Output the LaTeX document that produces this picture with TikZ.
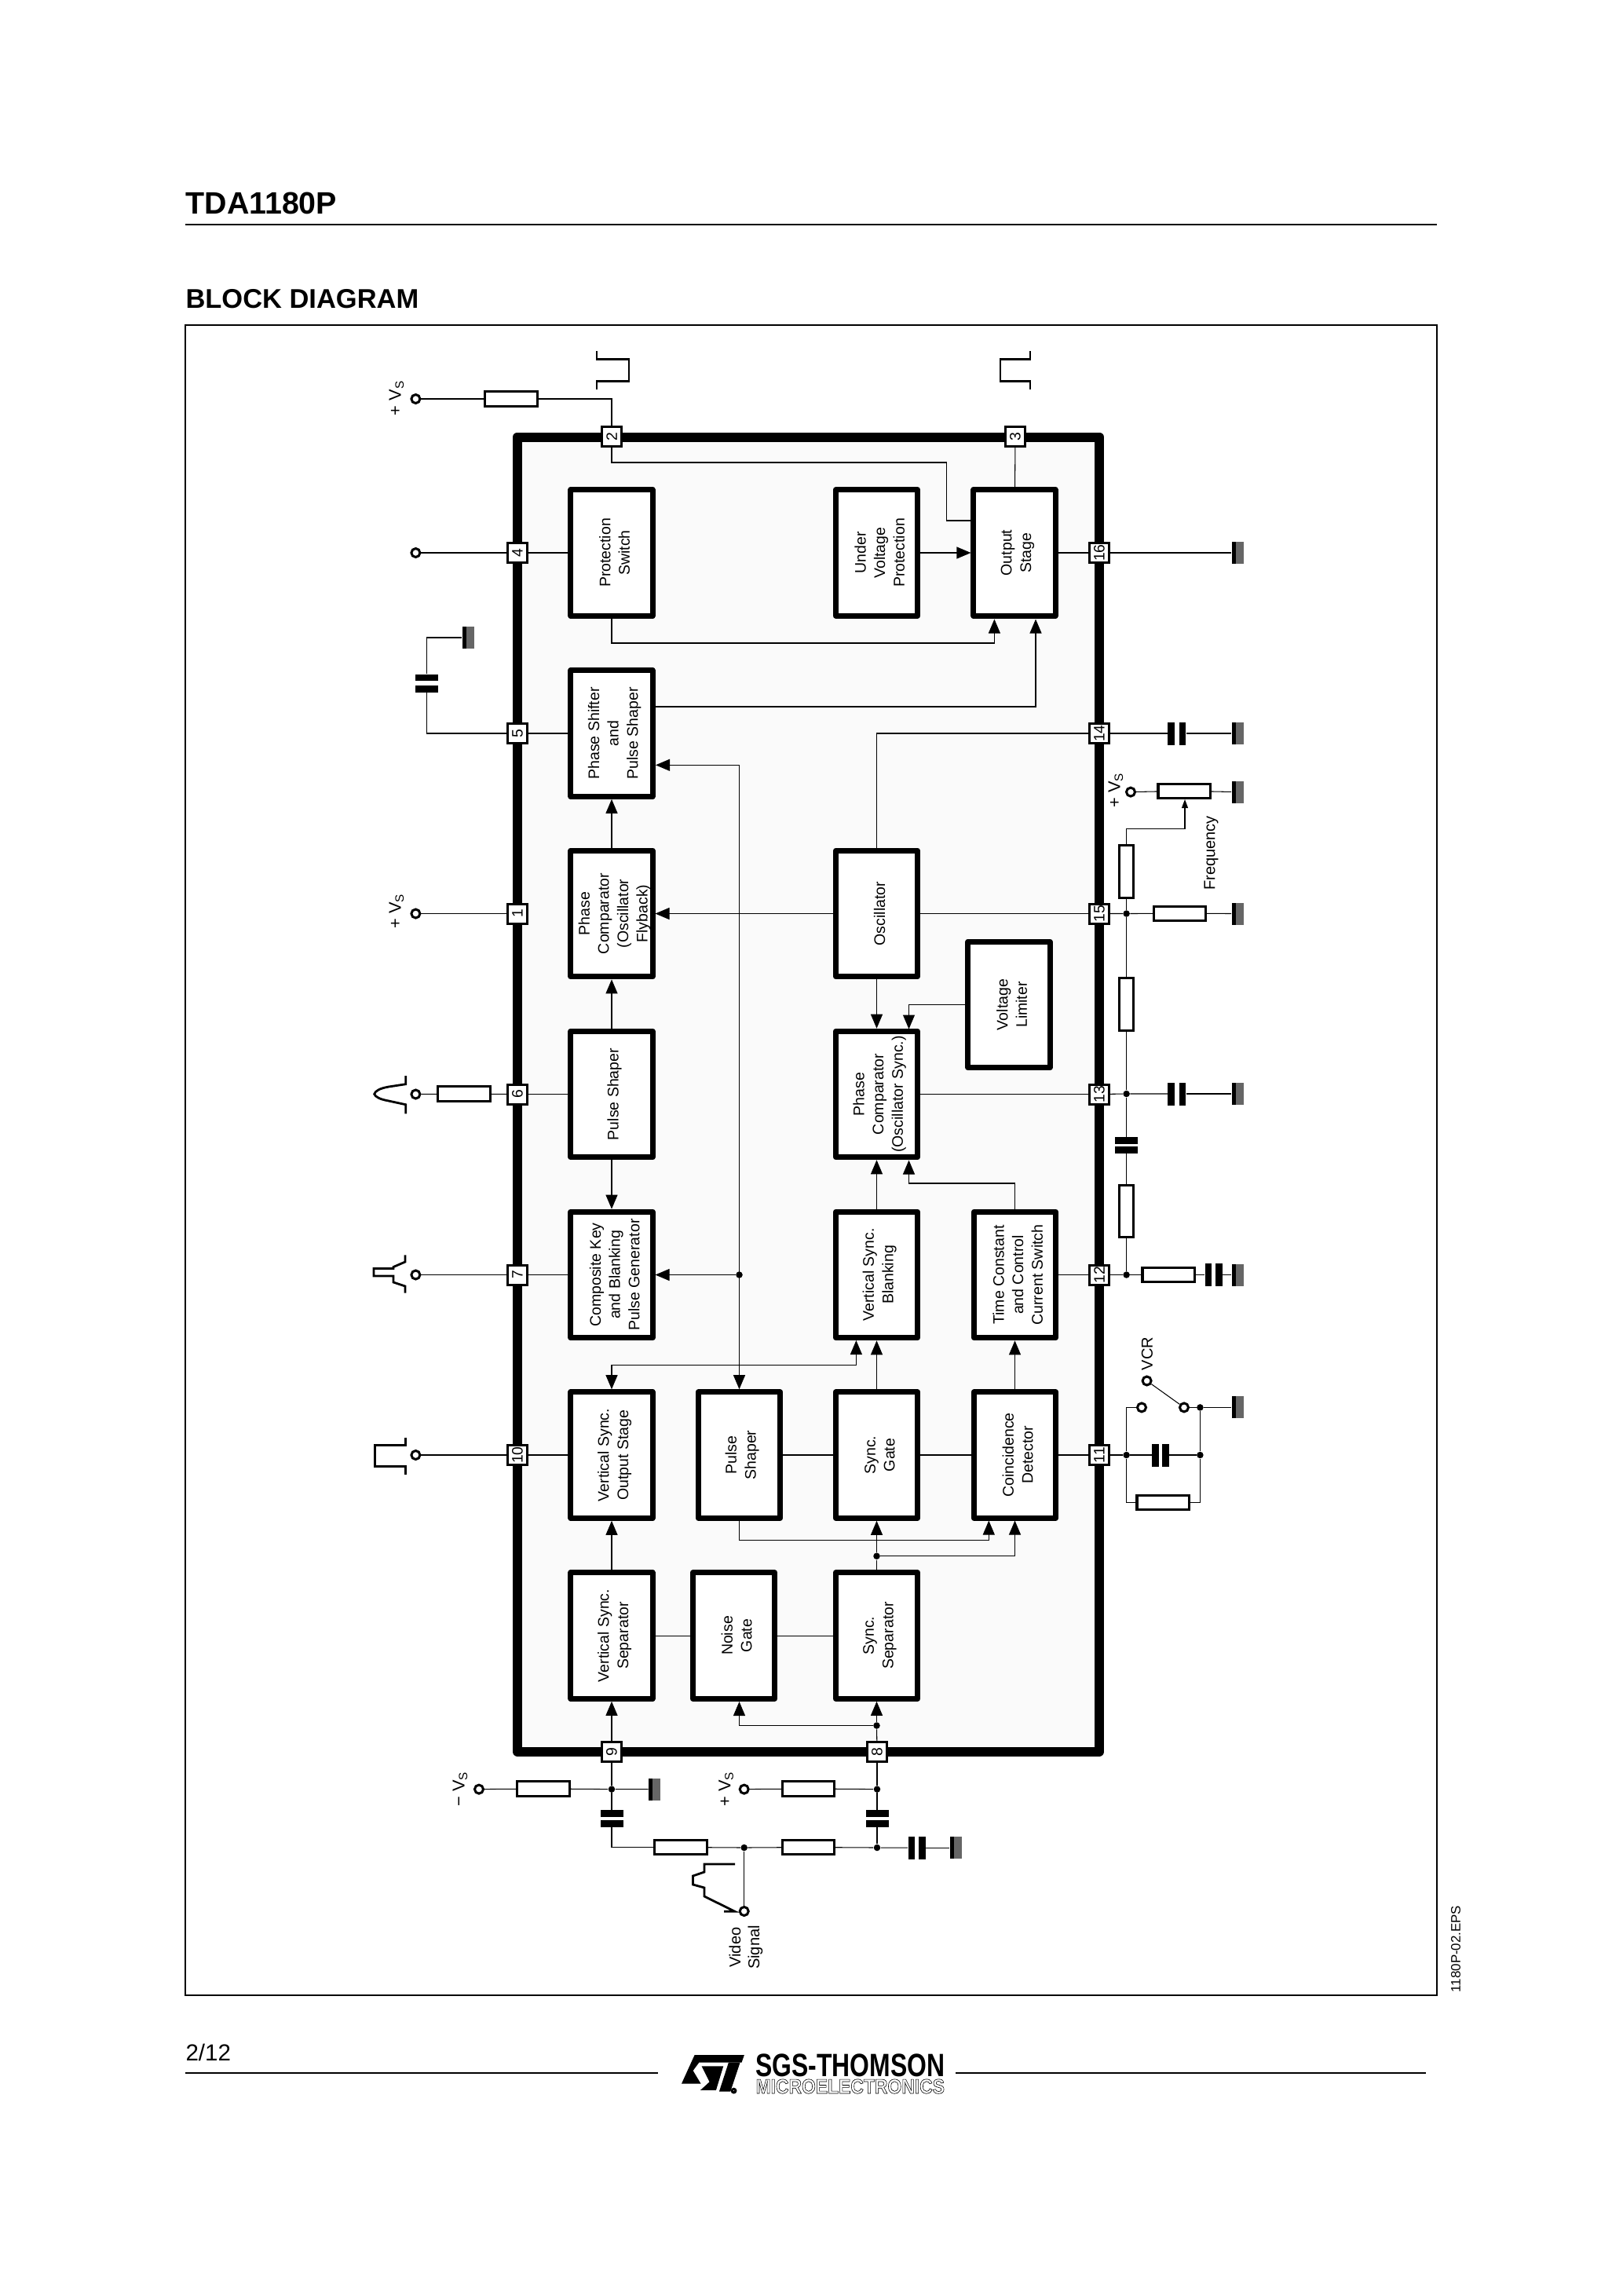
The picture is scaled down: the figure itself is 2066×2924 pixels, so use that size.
\documentclass[tikz,border=0pt]{standalone}
\usepackage{fontspec}
\usepackage{graphicx}
\setmainfont{Liberation Sans}
\usetikzlibrary{
  calc,
  arrows.meta
}
\definecolor{chipfill}{HTML}{FAFAFA}
\newcommand{\lift}{\rule{0pt}{6.1pt}}
\tikzset{
  block/.style={rotate=90,draw,line width=0.07cm,line join=round,fill=white,minimum width=1.605cm,minimum height=1.04cm,inner sep=0,align=center,font=\fontsize{5.55}{7}\selectfont},
  chippin/.style={rotate=90,draw,line width=0.03cm,fill=white,minimum size=0.25cm,inner sep=0,font=\fontsize{5.5}{6}\selectfont},
  res/.style={draw,line width=0.03cm,fill=white,minimum width=0.66cm,minimum height=0.185cm,inner sep=0},
  term/.style={circle,draw,line width=0.03cm,fill=white,minimum size=0.11cm,inner sep=0},
  conn/.style={circle,fill=black,minimum size=0.085cm,inner sep=0},
  plate/.style={fill=black,minimum width=0.085cm,minimum height=0.29cm,inner sep=0},
  gnd/.style={anchor=west,fill=black!60,minimum width=0.15cm,minimum height=0.28cm,inner sep=0,path picture={\fill[black] (path picture bounding box.north west) rectangle ($(path picture bounding box.south west)+(5,0)$);}},
  lab/.style={rotate=90,inner sep=0,align=center,font=\fontsize{5.7}{6.8}\selectfont},
  supply/.style={rotate=90,inner sep=0,font=\fontsize{6.2}{7}\selectfont},
  arr/.style={-{Triangle[length=0.18cm,width=0.15cm]}},
  dbl/.style={{Triangle[length=0.18cm,width=0.15cm]}-{Triangle[length=0.18cm,width=0.15cm]}},
  arrs/.style={-{Triangle[length=0.11cm,width=0.08cm]}},
  wave/.style={line width=0.028cm}
}

\begin{document}
\begin{tikzpicture}[x=0.01cm,y=-0.01cm,line width=0.3pt]
  \useasboundingbox[fill=white] (0,0) rectangle (2066,2924);

  % page furniture
  \node[anchor=base west,inner sep=0,font=\fontsize{11.2}{13}\bfseries\selectfont] (title) at (236,272.7) {TDA1180P};
  \draw[line width=0.02cm] (235.7,285.7) -- (1830,285.7);
  \node[anchor=base west,inner sep=0,font=\fontsize{9.8}{12}\bfseries\selectfont] (head) at (236,392.3) {BLOCK DIAGRAM};
  \draw[line width=0.023cm] (235.7,414.3) rectangle (1830,2541);
  \node[rotate=90,inner sep=0,font=\fontsize{4.8}{6}\selectfont] (eps) at (1854,2482) {1180P-02.EPS};
  \node[anchor=base west,inner sep=0,font=\fontsize{8.4}{10}\selectfont] (page) at (236,2624) {2/12};
  \draw[line width=0.022cm] (235.7,2640) -- (838,2640);
  \draw[line width=0.022cm] (1217,2640) -- (1816,2640);
  \begin{scope}[shift={(862,2612)},x=0.00333cm,y=-0.00333cm]
    \fill (68,15) -- (258,15) -- (248,44) -- (85,44) -- (62,75) -- (92,125) -- (18,125) -- cycle;
    \fill (95,58) -- (178,58) -- (150,150) -- (90,150) -- (125,118) -- cycle;
    \fill (198,44) -- (242,44) -- (205,155) -- (162,155) -- cycle;
    \draw[line width=0.03cm] (218,152) circle (7);
  \end{scope}
  \node[anchor=base west,inner sep=0,font=\fontsize{11.7}{13}\bfseries\selectfont] (sgs) at (961.7,2644) {\scalebox{0.775}[1]{SGS-THOMSON}};
  \node[anchor=base west,inner sep=0,font=\fontsize{7.4}{8}\bfseries\selectfont] (micro) at (962,2666) {\special{pdf:code 1 Tr 0.18 w}\scalebox{0.88}[1]{MICROELECTRONICS}\special{pdf:code 0 Tr}};

  % chip outline
  \node[draw,line width=0.12cm,line join=round,fill=chipfill,minimum width=7.41cm,minimum height=16.73cm,inner sep=0] (chip) at (1029.5,1393.5) {};

  % blocks
  \node[block] (PS) at (779,704) {\lift Protection\\Switch};
  \node[block] (UV) at (1116.5,704) {\lift Under\\Voltage\\Protection};
  \node[block] (OS) at (1292,704) {\lift Output\\Stage};
  \node[block] (PH) at (779,934) {\lift Phase Shifter\\and\\Pulse Shaper};
  \node[block] (PC) at (779,1163.5) {\lift Phase\\Comparator\\(Oscillator\\Flyback)};
  \node[block] (OSC) at (1116.5,1163.5) {\lift Oscillator};
  \node[block] (VL) at (1285,1279.5) {\lift Voltage\\Limiter};
  \node[block] (PU) at (779,1393.5) {\lift Pulse Shaper};
  \node[block] (PCS) at (1116.5,1393.5) {\lift Phase\\Comparator\\(Oscillator Sync.)};
  \node[block] (CK) at (779,1623.5) {\lift Composite Key\\and Blanking\\Pulse Generator};
  \node[block] (VB) at (1116.5,1623.5) {\lift Vertical Sync.\\Blanking};
  \node[block] (TC) at (1292.5,1623.5) {\lift Time Constant\\and Control\\Current Switch};
  \node[block] (VO) at (779,1853) {\lift Vertical Sync.\\Output Stage};
  \node[block] (SP) at (941.5,1853) {\lift Pulse\\Shaper};
  \node[block] (SG) at (1116.5,1853) {\lift Sync.\\Gate};
  \node[block] (CD) at (1292.5,1853) {\lift Coincidence\\Detector};
  \node[block] (VS) at (779,2083) {\lift Vertical Sync.\\Separator};
  \node[block] (NG) at (934.5,2083) {\lift Noise\\Gate};
  \node[block] (SS) at (1116.5,2083) {\lift Sync.\\Separator};

  % pins
  \node[chippin] (p1) at (659,1163.5) {1};
  \node[chippin] (p2) at (779,556) {2};
  \node[chippin] (p3) at (1293,556) {3};
  \node[chippin] (p4) at (659,704) {4};
  \node[chippin] (p5) at (659,934) {5};
  \node[chippin] (p6) at (659,1393.5) {6};
  \node[chippin] (p7) at (659,1623.5) {7};
  \node[chippin] (p8) at (1117,2231) {8};
  \node[chippin] (p9) at (779,2231) {9};
  \node[chippin] (p10) at (659,1853) {10};
  \node[chippin] (p11) at (1400,1853) {11};
  \node[chippin] (p12) at (1400,1623.5) {12};
  \node[chippin] (p13) at (1400,1393.5) {13};
  \node[chippin] (p14) at (1400,934) {14};
  \node[chippin] (p15) at (1400,1163.5) {15};
  \node[chippin] (p16) at (1400,704) {16};

  % connections inside the chip
  \coordinate (ob1) at (1266.4,788.5);
  \coordinate (ob2) at (1319,788.5);
  \coordinate (ol) at (1236.5,663);
  \coordinate (pr) at (835,974.3);
  \coordinate (vb) at (1090.4,1707);
  \coordinate (cb) at (1259.3,1936.5);
  \coordinate (cb2) at (1292.5,1936.5);
  \coordinate (pt) at (1157.5,1310.5);
  \coordinate (pb) at (1157.5,1477.5);
  \coordinate (nb) at (941.5,2167);
  \node[conn] (d1) at (941.5,1623.5) {};
  \node[conn] (d2) at (1116.5,1981.7) {};
  \node[conn] (d3) at (1116.5,2197.5) {};

  \draw (p2) |- (1205.4,589) |- (ol);
  \draw (p3) -- (OS);
  \draw[arr] (UV) -- (OS);
  \draw[arr] (PS) |- (1266.4,819) -- (ob1);
  \draw[arr] ($(PH.south)+(0,-34)$) -| (ob2);
  \draw (p4) -- (PS);
  \draw (p5) -- (PH);
  \draw (p16) -- (OS);
  \draw[arr] (PC) -- (PH);
  \draw[arr] (PU) -- (PC);
  \draw[arr] (PU) -- (CK);
  \draw (p6) -- (PU);
  \draw (p7) -- (CK);
  \draw (p10) -- (VO);
  \draw[arr] (OSC) -- (PC);
  \draw[arr] (OSC) -- (PCS);
  \draw (OSC) -- (p15);
  \draw (OSC) |- (p14);
  \draw[arr] (VL) -| (pt);
  \draw (PCS) -- (p13);
  \draw[arr] (VB) -- (PCS);
  \draw[arr] (TC) |- (1157.5,1507) -- (pb);
  \draw (TC) -- (p12);
  \draw[arr] (SG) -- (VB);
  \draw[arr] (CD) -- (TC);
  \draw (CD) -- (p11);
  \draw[dbl] (pr) -| (SP);
  \draw[arr] (d1) -- (CK);
  \draw[dbl] (VO) |- (1090.4,1738.5) -- (vb);
  \draw (SP) -- (SG);
  \draw (SG) -- (CD);
  \draw[arr] (SP) |- (1259.3,1961.5) -- (cb);
  \draw[arr] (VS) -- (VO);
  \draw (VS) -- (NG);
  \draw (NG) -- (SS);
  \draw (SS) -- (d2);
  \draw[arr] (d2) -- (SG);
  \draw[arr] (d2) -| (cb2);
  \draw[arr] (p9) -- (VS);
  \draw (p8) -- (d3);
  \draw[arr] (d3) -- (SS);
  \draw[arr] (d3) -| (nb);

  % outside, top and left
  \node[term] (t2) at (529.4,508) {};
  \node[res] (r2) at (651,508) {};
  \draw (t2) -- (r2);
  \draw (r2) -| (p2);
  \node[supply] (v2) at (505,506.6) {+ V\textsubscript{S}};
  \draw[wave] (760,447) -- (760,457.5) -- (801,457.5) -- (801,485.4) -- (760,485.4) -- (760,495.7);
  \draw[wave] (1312,447) -- (1312,457.5) -- (1274,457.5) -- (1274,485.4) -- (1312,485.4) -- (1312,495.7);

  \node[term] (t4) at (529.4,704) {};
  \draw (t4) -- (p4);

  \node[plate,rotate=90] (c5a) at (543.7,877.5) {};
  \node[plate,rotate=90] (c5b) at (543.7,863.2) {};
  \node[gnd] (g5) at (588,812) {};
  \draw (p5) -| (c5a);
  \draw (c5b) |- (g5);

  \node[term] (t1) at (529.4,1163.5) {};
  \draw (t1) -- (p1);
  \node[supply] (v1) at (505,1160) {+ V\textsubscript{S}};

  \node[term] (t6) at (529.4,1393.5) {};
  \node[res] (r6) at (591,1393) {};
  \draw (t6) -- (r6) -- (p6);
  \draw[wave] (516.7,1370) -- (516.7,1380.7) -- (495,1384) .. controls (484,1386) and (478,1389) .. (476.7,1393.3) .. controls (478,1397) and (484,1400) .. (495,1402) -- (516.7,1406.7) -- (516.7,1418.3);

  \node[term] (t7) at (529.4,1623.5) {};
  \draw (t7) -- (p7);
  \draw[wave] (516,1598.4) -- (516,1607) -- (501,1613.5) -- (501,1615.4) -- (476,1615.4) -- (476,1625) -- (501,1625) -- (501,1633) -- (516,1638) -- (516,1646.6);

  \node[term] (t10) at (529.4,1853) {};
  \draw (t10) -- (p10);
  \draw[wave] (516.8,1830.6) -- (516.8,1840.5) -- (477.5,1840.5) -- (477.5,1867.4) -- (516.8,1867.4) -- (516.8,1878.4);

  % outside, right
  \node[gnd] (g16) at (1568,704) {};
  \draw (p16) -- (g16);

  \node[plate] (c14a) at (1491.6,934) {};
  \node[plate] (c14b) at (1505.8,934) {};
  \node[gnd] (g14) at (1568,934) {};
  \draw (p14) -- (c14a);
  \draw (c14b) -- (g14);

  \node[term] (tp) at (1440,1008.6) {};
  \node[supply] (vp) at (1421,1006) {+ V\textsubscript{S}};
  \node[res] (rp) at (1508,1007.3) {};
  \node[gnd] (gp) at (1568,1008.6) {};
  \coordinate (wip) at (1509,1018);
  \draw (tp) -- (rp) -- (gp);
  \node[conn] (d15) at (1434.6,1163.5) {};
  \node[res,rotate=90] (r15a) at (1434.6,1110) {};
  \node[res] (r15b) at (1502.4,1163.3) {};
  \node[gnd] (g15) at (1568,1163.5) {};
  \node[lab] (freq) at (1542.5,1086.5) {Frequency};
  \draw (d15) -- (r15a);
  \draw[arrs] (r15a) |- (1509,1055.4) -- (wip);
  \draw (p15) -- (d15) -- (r15b) -- (g15);

  \node[conn] (d13) at (1434.6,1393) {};
  \node[res,rotate=90] (r13) at (1434.6,1279) {};
  \node[plate] (c13a) at (1491.6,1393) {};
  \node[plate] (c13b) at (1505.8,1393) {};
  \node[gnd] (g13) at (1568,1393) {};
  \draw (d15) -- (r13) -- (d13);
  \draw (p13) -- (d13) -- (c13a);
  \draw (c13b) -- (g13);

  \node[plate,rotate=90] (c12a) at (1434.6,1452.4) {};
  \node[plate,rotate=90] (c12b) at (1434.6,1464.5) {};
  \node[res,rotate=90] (r12a) at (1434.6,1542) {};
  \node[conn] (d12) at (1434.6,1623.5) {};
  \node[res] (r12b) at (1488,1623.5) {};
  \node[plate] (c12c) at (1539,1623.5) {};
  \node[plate] (c12d) at (1552.3,1623.5) {};
  \node[gnd] (g12) at (1568,1623.5) {};
  \draw (d13) -- (c12a);
  \draw (c12b) -- (r12a) -- (d12);
  \draw (p12) -- (d12) -- (r12b) -- (c12c);
  \draw (c12d) -- (g12);

  \node[conn] (d11a) at (1434.6,1853) {};
  \node[conn] (d11b) at (1528.4,1853) {};
  \node[conn] (d11c) at (1528.4,1792.4) {};
  \node[term] (t11a) at (1454,1792.4) {};
  \node[term] (t11b) at (1508,1792.4) {};
  \node[term] (t11v) at (1460.6,1758.5) {};
  \node[lab] (vcr) at (1461,1724) {VCR};
  \node[plate] (c11a) at (1471.5,1853) {};
  \node[plate] (c11b) at (1484.5,1853) {};
  \node[res] (r11) at (1481,1913.4) {};
  \node[gnd] (g11) at (1568,1792.4) {};
  \draw (p11) -- (d11a) -- (c11a);
  \draw (c11b) -- (d11b);
  \draw (d11a) |- (t11a);
  \draw (d11a) |- (r11);
  \draw (r11) -| (d11b);
  \draw (d11b) -- (d11c);
  \draw (t11b) -- (d11c) -- (g11);
  \draw (t11v) -- (t11b);

  % outside, bottom
  \node[conn] (d9) at (779,2278.6) {};
  \node[res] (r9) at (692,2278) {};
  \node[term] (t9) at (610,2278.6) {};
  \node[supply] (v9) at (586,2278) {− V\textsubscript{S}};
  \node[gnd] (g9) at (825.6,2278.6) {};
  \node[plate,rotate=90] (c9a) at (779,2309.5) {};
  \node[plate,rotate=90] (c9b) at (779,2322.5) {};
  \node[res] (r9b) at (867,2352.5) {};
  \node[conn] (dv) at (947.7,2353) {};
  \node[res] (r8b) at (1029.5,2352.5) {};
  \node[conn] (d8b) at (1117,2353) {};
  \node[plate] (c8c) at (1161,2353) {};
  \node[plate] (c8d) at (1174.5,2353) {};
  \node[gnd] (g8) at (1209.4,2353) {};
  \node[conn] (d8) at (1117,2278.6) {};
  \node[res] (r8) at (1029.5,2278) {};
  \node[term] (t8) at (947.7,2278.6) {};
  \node[supply] (v8) at (924.8,2278) {+ V\textsubscript{S}};
  \node[plate,rotate=90] (c8a) at (1117,2309.5) {};
  \node[plate,rotate=90] (c8b) at (1117,2322.5) {};
  \node[term] (tv) at (947.7,2434) {};
  \node[lab] (video) at (950,2480) {Video\\Signal};
  \draw (t9) -- (r9) -- (d9) -- (g9);
  \draw (p9) -- (d9) -- (c9a);
  \draw (c9b) |- (r9b);
  \draw (r9b) -- (dv) -- (r8b) -- (d8b) -- (c8c);
  \draw (c8d) -- (g8);
  \draw (t8) -- (r8) -- (d8);
  \draw (p8) -- (d8) -- (c8a);
  \draw (c8b) -- (d8b);
  \draw (dv) -- (tv);
  \draw[wave] (936,2374) -- (897,2374) -- (897,2384) -- (882.5,2389) -- (882.5,2400) -- (897,2404) -- (897,2415) -- (936,2434.3) -- (922,2434.3);
\end{tikzpicture}
\end{document}
